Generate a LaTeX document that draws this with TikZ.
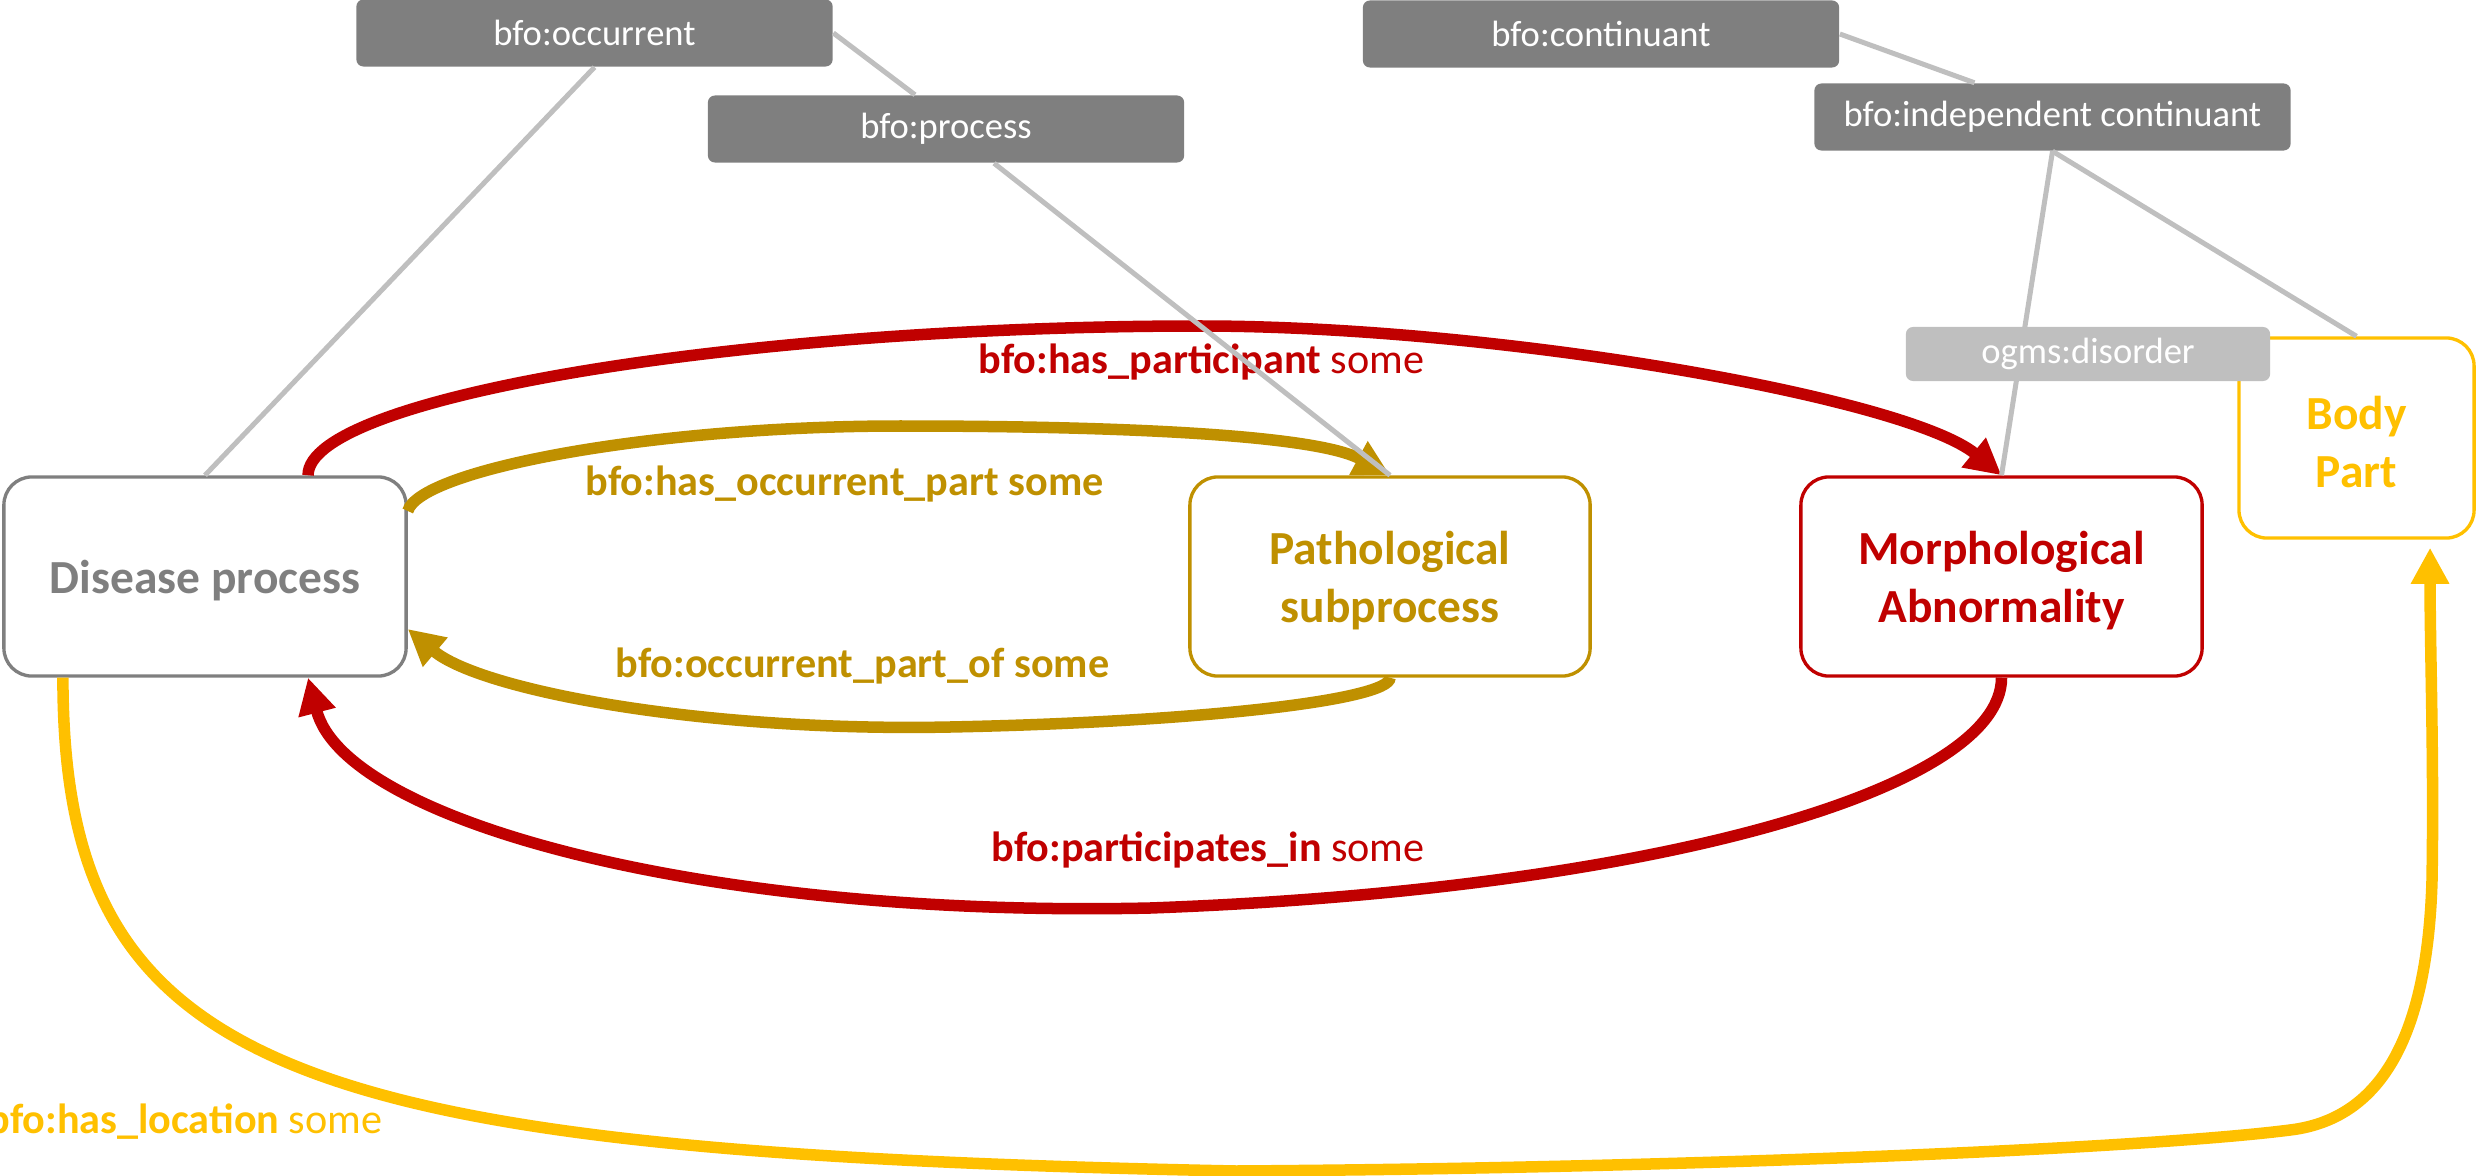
\documentclass[tikz,border=0pt]{standalone}
\usepackage{fontspec}
\setmainfont{Carlito}
\usetikzlibrary{arrows.meta}
\definecolor{dgray}{HTML}{7F7F7F}
\definecolor{lgray}{HTML}{BFBFBF}
\definecolor{goldc}{HTML}{BF9000}
\definecolor{dred}{HTML}{C00000}
\definecolor{amber}{HTML}{FFC000}
\newcommand\lowerstrut{\rule{0pt}{12pt}}
\begin{document}
\begin{tikzpicture}[x=0.01cm,y=-0.01cm,
  upper/.style={fill=dgray, text=white, rounded corners=0.07cm, inner sep=0pt,
    font=\fontsize{10.4}{12}\selectfont, minimum height=0.67cm, minimum width=4.76cm},
  cls/.style={draw, line width=0.95pt, fill=white, rounded corners=0.28cm, inner sep=0pt,
    align=center, font=\fontsize{13.5}{16.5}\selectfont\bfseries},
  rel/.style={line width=0.115cm, -{Triangle[length=0.36cm,width=0.36cm]}},
  isa/.style={draw=lgray, line width=0.05cm},
  lbl/.style={inner sep=0pt, anchor=base west, font=\fontsize{12}{14}\selectfont}]
\useasboundingbox (0,0) rectangle (2476,1176);

% upper-ontology boxes
\node[upper] (occ) at (594.5,33) {bfo:occurrent};
\node[upper] (proc) at (946,129) {bfo:process};
\node[upper] (cont) at (1601,34) {bfo:continuant};
\node[upper] (indep) at (2052.5,117) {bfo:independent continuant};

% class boxes
\node[cls, draw=amber, text=amber, minimum width=2.35cm, minimum height=2cm] (body) at (2356.5,438) {\lowerstrut Body\\Part};
\node[cls, draw=dred, text=dred, minimum width=4.01cm, minimum height=1.99cm] (morph) at (2001.5,576.5) {\lowerstrut Morphological\\Abnormality};
\node[cls, draw=goldc, text=goldc, minimum width=4cm, minimum height=1.99cm] (sub) at (1390,576.5) {\lowerstrut Pathological\\subprocess};
\node[cls, draw=dgray, text=dgray, minimum width=4.02cm, minimum height=1.99cm] (dp) at (205,576.5) {\lowerstrut Disease process};

% relations
\draw[rel, dred] ([xshift=1.03cm]dp.north) .. controls (308,397) and (740,326) .. (1200,326)
  .. controls (1500,326) and (1907,398) .. (morph.north);
\draw[rel, goldc] ([yshift=0.655cm]dp.east) .. controls (420,470) and (650,426) .. (900,426)
  .. controls (1150,426) and (1320,437) .. (sub.north);
\draw[rel, goldc] (sub.south) .. controls (1390,700) and (1200,722) .. (950,727)
  .. controls (700,732) and (480,690) .. ([yshift=-0.525cm]dp.east);
\draw[rel, dred] (morph.south) .. controls (2001.5,790) and (1650,890) .. (1150,908)
  .. controls (700,918) and (345,820) .. ([xshift=1.03cm]dp.south);
\draw[rel, amber] ([xshift=-1.42cm]dp.south) .. controls (63,1072) and (286,1152) .. (1236,1171)
  .. controls (1700,1168) and (2150,1148) .. (2290,1130)
  .. controls (2390,1118) and (2428,1020) .. (2432,880)
  .. controls (2434,760) and (2430,650) .. ([xshift=0.735cm,yshift=-0.08cm]body.south);

% relation labels
\node[lbl, text=dred] (l1) at (978,373) {\textbf{bfo:has\_participant} some};
\node[lbl, text=goldc] (l2) at (585,495) {\textbf{bfo:has\_occurrent\_part some}};
\node[lbl, text=goldc] (l3) at (615,677) {\textbf{bfo:occurrent\_part\_of some}};
\node[lbl, text=dred] (l4) at (991,861) {\textbf{bfo:participates\_in} some};
\node[lbl, text=amber, anchor=base east] (l5) at (383,1133) {\textbf{bfo:has\_location} some};

% is-a lines
\draw[isa] (occ.south) -- (dp.north);
\draw[isa] (occ.east) -- ([xshift=-0.31cm]proc.north);
\draw[isa] ([xshift=0.48cm]proc.south) -- (sub.north);
\draw[isa] (cont.east) -- ([xshift=-0.78cm]indep.north);
\draw[isa] (indep.south) -- (morph.north);
\draw[isa] (indep.south) -- (body.north);

\node[upper, fill=lgray, minimum width=3.64cm, minimum height=0.54cm] (dis) at (2088,354) {ogms:disorder};
\end{tikzpicture}
\end{document}
